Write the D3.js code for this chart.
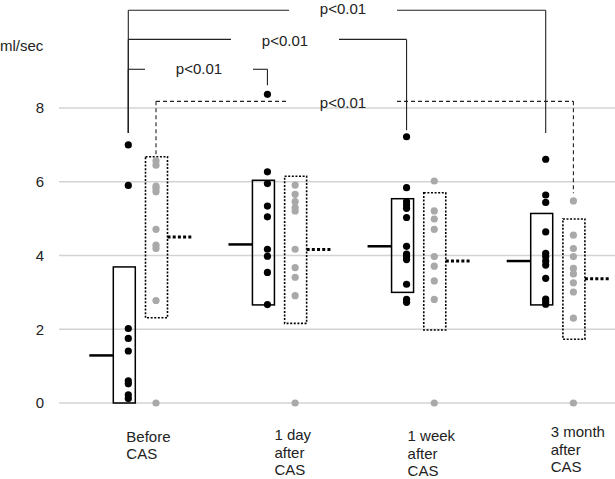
<!DOCTYPE html>
<html><head><meta charset="utf-8">
<script src="https://cdn.jsdelivr.net/npm/d3@7"></script>
<style>body{margin:0;background:#fff}svg{display:block;font-family:"Liberation Sans",Arial,sans-serif}</style>
</head><body><svg id="c" width="615" height="479"></svg>
<script>
const categories = ["Before CAS", "1 day after CAS", "1 week after CAS", "3 month after CAS"];
const labelLines = [["Before","CAS"],["1 day","after","CAS"],["1 week","after","CAS"],["3 month","after","CAS"]];
const yTicks = [0, 2, 4, 6, 8];
// solid series (black)
const blackDots = [
  [7.0, 5.9, 2.02, 1.75, 1.41, 0.6, 0.52, 0.22, 0.12],
  [8.37, 6.27, 5.95, 5.34, 5.05, 4.17, 3.98, 3.54, 2.67],
  [7.22, 5.84, 5.46, 5.37, 5.28, 5.03, 4.25, 4.04, 3.97, 3.89, 3.22, 2.81, 2.73],
  [6.61, 5.64, 5.44, 4.64, 4.06, 3.97, 3.85, 3.74, 3.38, 2.82, 2.75, 2.68]
];
const blackBox = [[0, 3.69], [2.66, 6.04], [3.0, 5.54], [2.66, 5.14]];
const blackMedian = [1.29, 4.30, 4.25, 3.85];
// dotted series (gray)
const grayDots = [
  [6.57, 6.45, 5.88, 5.82, 5.73, 4.71, 4.28, 4.19, 2.78, 0],
  [5.91, 5.66, 5.46, 5.30, 5.21, 4.17, 3.67, 3.41, 2.91, 0],
  [6.02, 5.21, 4.99, 4.71, 3.97, 3.71, 3.31, 2.81, 0],
  [5.48, 4.55, 4.19, 3.97, 3.65, 3.50, 3.26, 3.01, 2.30, 0]
];
const grayBox = [[2.31, 6.68], [2.16, 6.15], [1.98, 5.70], [1.73, 4.99]];
const grayMedian = [4.5, 4.16, 3.85, 3.37];
// significance brackets
const brackets = [
  {from: 0, to: 3, level: 10.65, leftEnd: 7.32, rightEnd: 7.32, s: "black", label: "p<0.01"},
  {from: 0, to: 2, level: 9.86, leftEnd: 7.32, rightEnd: 7.40, s: "black", label: "p<0.01"},
  {from: 0, to: 1, level: 9.05, leftEnd: 7.32, rightEnd: 8.62, s: "black", label: "p<0.01"},
  {from: 0, to: 3, level: 8.18, leftEnd: 6.68, rightEnd: 5.69, s: "gray", label: "p<0.01"}
];

const svg = d3.select("#c");
const y = d3.scaleLinear().domain([0, 8]).range([403, 108]);
const x = d3.scalePoint().domain(categories).range([128.3, 545.7]);
const grayOff = 27.7, medLen = 24;

// gridlines
svg.append("g").selectAll("line").data(yTicks).join("line")
  .attr("x1", 59).attr("x2", 615).attr("y1", d => y(d)).attr("y2", d => y(d))
  .attr("stroke", "#d3d3d3").attr("stroke-width", 1.6);
const yAxis = d3.axisLeft(y).tickValues(yTicks).tickSize(0).tickPadding(0);
const ga = svg.append("g").attr("transform", "translate(44,0)").call(yAxis);
ga.select(".domain").remove();
ga.selectAll("text").attr("font-size", 15).attr("fill", "#222").attr("font-family", "Liberation Sans, Arial, sans-serif");
svg.append("text").attr("x", 0).attr("y", 51).attr("font-size", 15).attr("fill", "#222").text("ml/sec");

// category labels
const labelDx = [-2, 7, 1, 5];
const labelTop = [441.5, 440, 441, 437];
labelLines.forEach((lines, i) => {
  const t = svg.append("text").attr("font-size", 15).attr("fill", "#222");
  lines.forEach((l, j) => t.append("tspan").attr("x", x(categories[i]) + labelDx[i]).attr("y", labelTop[i] + j * 17.5).text(l));
});

// brackets
const labelCx = [null, 199, 285, 343];
brackets.forEach(b => {
  const off = b.s === "gray" ? grayOff : 0;
  const x1 = x(categories[b.from]) + off, x2 = x(categories[b.to]) + off;
  const yl = y(b.level);
  const g = svg.append("g").attr("fill", "none").attr("stroke", "#222").attr("stroke-width", 1.1);
  if (b.s === "gray") g.attr("stroke-dasharray", "4,3");
  const cx = labelCx[b.to];
  g.append("line").attr("x1", x1).attr("x2", cx - 54).attr("y1", yl).attr("y2", yl);
  g.append("line").attr("x1", cx + 54).attr("x2", x2).attr("y1", yl).attr("y2", yl);
  g.append("line").attr("x1", x2).attr("x2", x2).attr("y1", yl).attr("y2", y(b.rightEnd));
  g.append("line").attr("x1", x1).attr("x2", x1).attr("y1", yl).attr("y2", y(b.leftEnd));
  let ty = yl + 5;
  if (b.s === "gray") ty += 2;
  else if (b.to === 3) ty = 14;
  else if (b.to === 2) ty += 2;
  svg.append("text").attr("x", cx).attr("y", ty)
    .attr("text-anchor", "middle").attr("font-size", 15).attr("fill", "#222").text(b.label);
});

// boxes
categories.forEach((c, i) => {
  const cx = x(c);
  svg.append("rect").attr("x", cx - 15).attr("y", y(blackBox[i][1]))
    .attr("width", 22).attr("height", y(blackBox[i][0]) - y(blackBox[i][1]))
    .attr("fill", "none").attr("stroke", "#000").attr("stroke-width", 1.5);
  svg.append("line").attr("x1", cx - 15 - medLen).attr("x2", cx - 15)
    .attr("y1", y(blackMedian[i])).attr("y2", y(blackMedian[i]))
    .attr("stroke", "#000").attr("stroke-width", 2.5);
  const gx = cx + grayOff;
  svg.append("rect").attr("x", gx - 10.5).attr("y", y(grayBox[i][1]))
    .attr("width", 22).attr("height", y(grayBox[i][0]) - y(grayBox[i][1]))
    .attr("fill", "none").attr("stroke", "#000").attr("stroke-width", 1.6).attr("stroke-dasharray", "2,1.6");
  svg.append("line").attr("x1", gx + 11.5).attr("x2", gx + 11.5 + 25)
    .attr("y1", y(grayMedian[i])).attr("y2", y(grayMedian[i]))
    .attr("stroke", "#000").attr("stroke-width", 3).attr("stroke-dasharray", "3,2.2");
});

// dots
categories.forEach((c, i) => {
  svg.append("g").selectAll("circle").data(grayDots[i]).join("circle")
    .attr("cx", x(c) + grayOff).attr("cy", d => y(d)).attr("r", 3.6).attr("fill", "#a9a9a9");
  svg.append("g").selectAll("circle").data(blackDots[i]).join("circle")
    .attr("cx", x(c)).attr("cy", d => y(d)).attr("r", 3.6).attr("fill", "#000");
});
</script></body></html>
